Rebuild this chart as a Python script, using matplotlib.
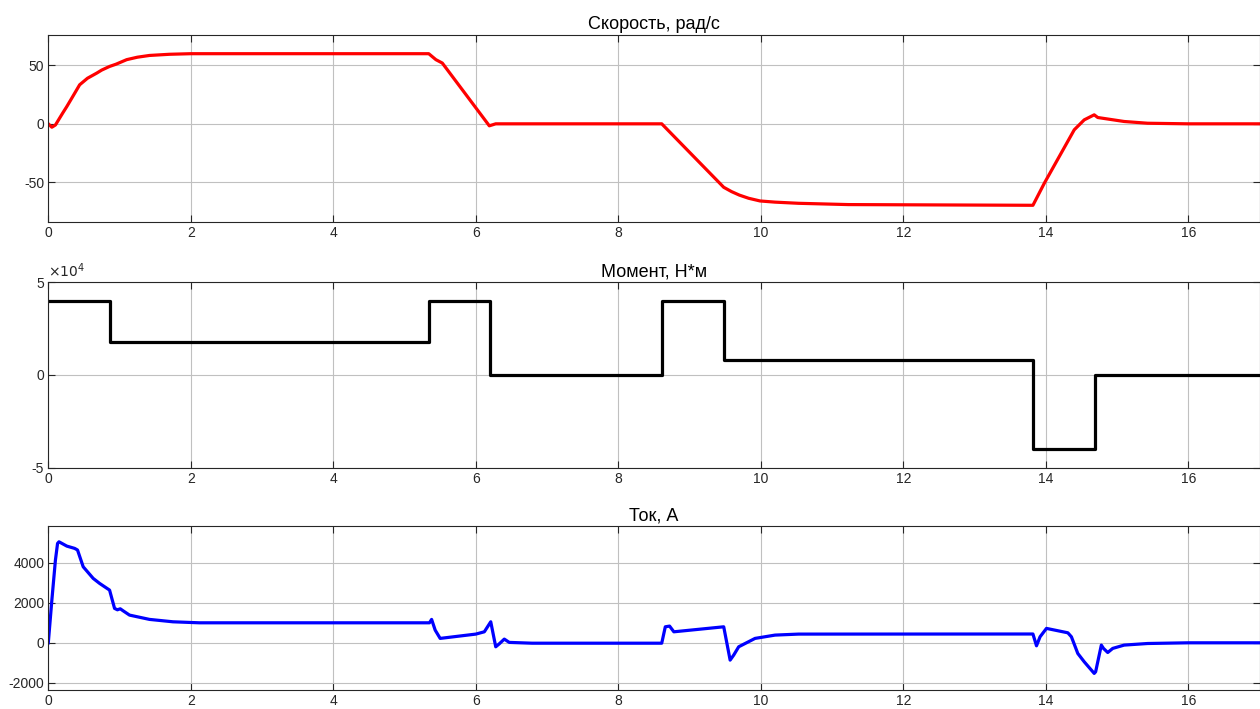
import matplotlib
matplotlib.use("Agg")
import matplotlib.pyplot as plt

plt.rcParams.update({
    'font.family': ['Liberation Sans', 'DejaVu Sans'],
    'font.size': 10,
    'axes.unicode_minus': False,
    'axes.linewidth': 0.8,
    'axes.edgecolor': '#262626',
    'xtick.color': '#262626',
    'ytick.color': '#262626',
    'axes.titlesize': 13,
})

# Speed, rad/s
speed_t = [0, 0.05, 0.1, 0.2, 0.26, 0.33, 0.44, 0.55, 0.68, 0.75, 0.86, 0.95,
           1.1, 1.25, 1.42, 1.7, 2.0, 5.34, 5.44, 5.53, 6.19, 6.28, 8.61, 9.48,
           9.59, 9.7, 9.83, 9.99, 10.2, 10.53, 11.23, 13.82, 13.98, 14.40, 14.54,
           14.68, 14.73, 15.1, 15.43, 16.0, 17.0]
speed_v = [0, -2.9, -1, 9, 14.8, 22, 33.4, 39, 43.4, 46, 49.1, 51,
           54.9, 57, 58.5, 59.5, 60, 60, 54.9, 52, -1.7, 0, 0, -54.3,
           -58, -61, -63.7, -66, -67, -68, -69.1, -69.7, -50.8, -5.1, 3.4,
           7.7, 5.4, 2, 0.5, 0, 0]

# Torque, N*m (piecewise constant)
torque_t = [0, 0.86, 5.34, 6.2, 8.61, 9.48, 13.82, 14.69, 17.0]
torque_v = [4e4, 1.8e4, 4e4, 0, 4e4, 0.8e4, -4e4, 0, 0]
torque_ticks = [-5e4, 0, 5e4]
torque_labels = ['-5', '0', '5']

# Current, A
current_t = [0, 0.05, 0.1, 0.13, 0.15, 0.26, 0.37, 0.41, 0.49, 0.63, 0.72, 0.86,
             0.93, 0.97, 1.01, 1.05, 1.14, 1.42, 1.75, 2.12, 5.35, 5.38, 5.43,
             5.5, 6.0, 6.12, 6.21, 6.28, 6.33, 6.40, 6.47, 6.79, 8.61, 8.66,
             8.72, 8.78, 9.48, 9.57, 9.62, 9.69, 9.78, 9.92, 10.2, 10.53, 13.82,
             13.87, 13.92, 14.01, 14.31, 14.36, 14.45, 14.54, 14.68, 14.70,
             14.78, 14.81, 14.87, 14.94, 15.1, 15.43, 16.0, 17.0]
current_v = [0, 2135, 4135, 4970, 5050, 4835, 4720, 4640, 3800, 3220, 2970, 2635,
             1720, 1650, 1700, 1600, 1385, 1170, 1050, 1000, 1000, 1170, 635,
             220, 435, 550, 1050, -200, -50, 185, 20, -20, -20, 800,
             835, 550, 800, -865, -615, -200, -35, 220, 385, 435, 440,
             -150, 300, 720, 500, 300, -535, -950, -1530, -1450,
             -115, -280, -485, -280, -115, -35, 0, 0]

fig = plt.figure(figsize=(12.6, 7.09), dpi=100)
W, H = 1260.0, 709.0
left = 48.3 / W
width = (1259.5 - 48.3) / W

ax1 = fig.add_axes([left, 1 - 222 / H, width, 187 / H])
ax2 = fig.add_axes([left, 1 - 467.7 / H, width, 185.4 / H])
ax3 = fig.add_axes([left, 1 - 690 / H, width, 164 / H])

ax1.plot(speed_t, speed_v, color='#ff0000', linewidth=2.3)
ax1.set_ylim(-84, 76)
ax1.set_yticks([-50, 0, 50])
ax1.set_title("Скорость, рад/с", pad=4)

ax2.step(torque_t, torque_v, where='post', color='black', linewidth=2.3)
ax2.set_ylim(-5e4, 5e4)
ax2.set_yticks(torque_ticks)
ax2.set_yticklabels(torque_labels)
ax2.text(0.0, 1.01, r"$\times 10^{4}$", transform=ax2.transAxes,
         ha='left', va='bottom', fontsize=10, color='#262626')
ax2.set_title("Момент, Н*м", pad=4)

ax3.plot(current_t, current_v, color='#0000ff', linewidth=2.3)
ax3.set_ylim(-2360, 5840)
ax3.set_yticks([-2000, 0, 2000, 4000])
ax3.set_title("Ток, А", pad=4)

for ax in (ax1, ax2, ax3):
    ax.set_xlim(0, 17)
    ax.set_xticks([0, 2, 4, 6, 8, 10, 12, 14, 16])
    ax.grid(True, color='#c0c0c0', linewidth=0.8)
    ax.set_axisbelow(True)
    ax.tick_params(direction='in', top=True, right=True, length=5,
                   width=0.8, labelsize=10, pad=3)

fig.savefig("out.png", dpi=100)
